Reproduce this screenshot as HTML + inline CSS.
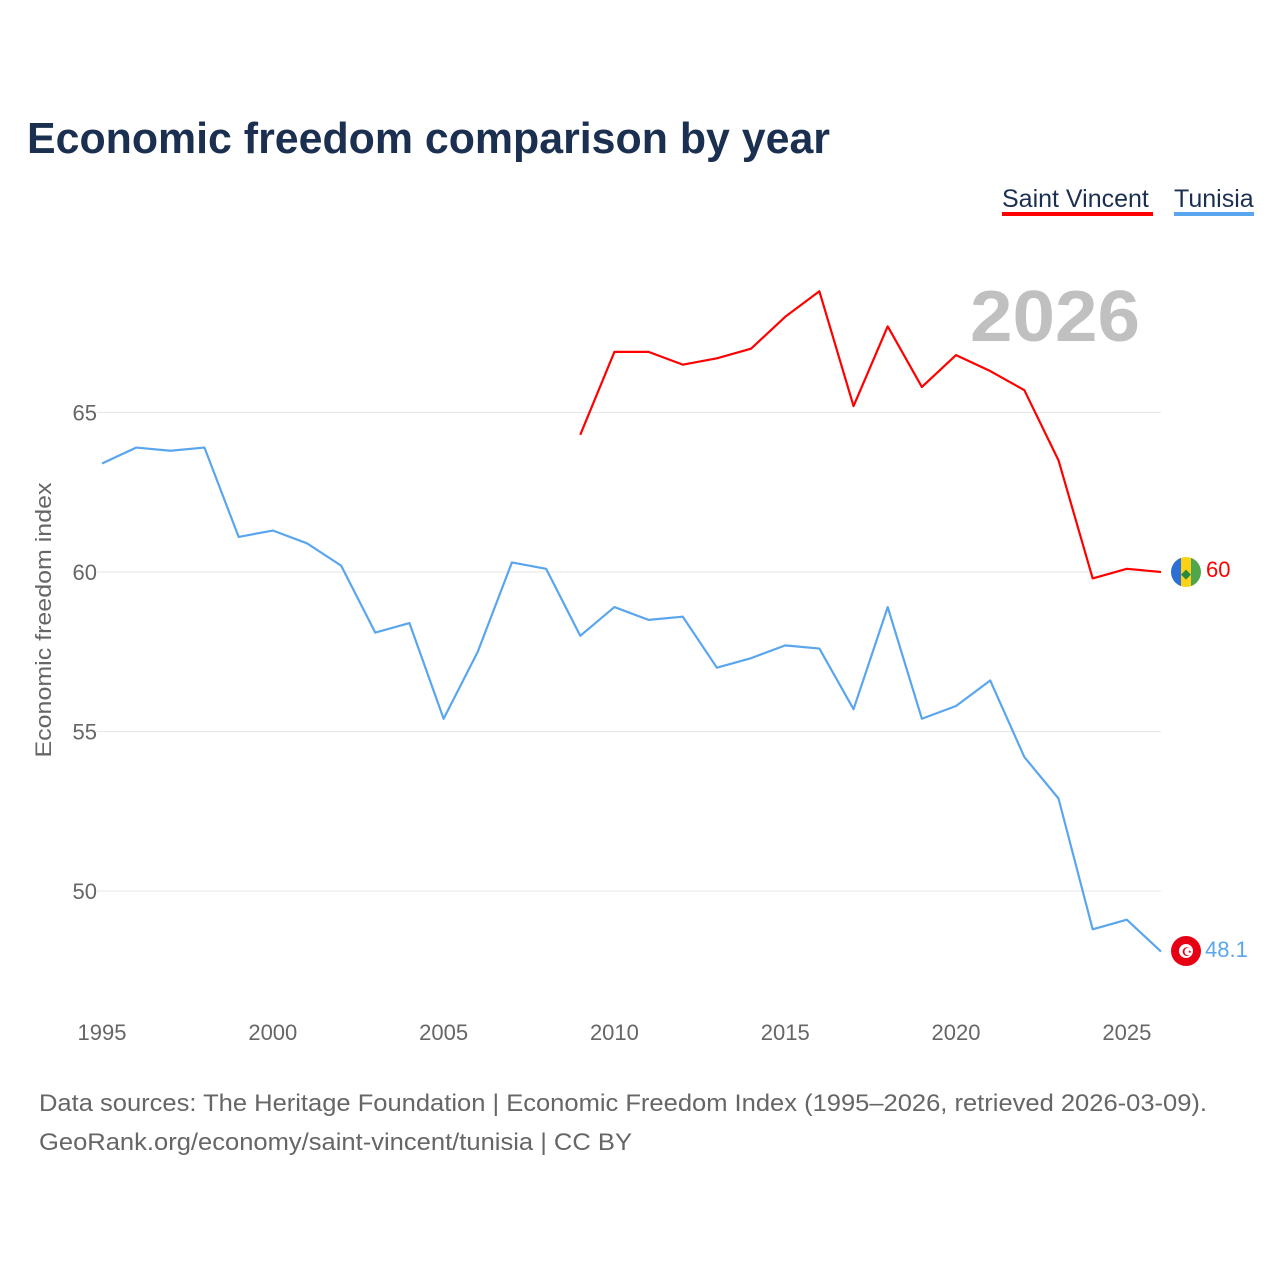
<!DOCTYPE html>
<html><head><meta charset="utf-8"><style>
body{margin:0;background:#fff;font-family:"Liberation Sans",sans-serif}
</style></head><body>
<svg id="chart" width="1280" height="1280" xmlns="http://www.w3.org/2000/svg" font-family="Liberation Sans, sans-serif">
<rect width="1280" height="1280" fill="#fff"/>
<text x="27" y="153" font-size="44" font-weight="bold" fill="#1b3050" textLength="803" lengthAdjust="spacingAndGlyphs">Economic freedom comparison by year</text>
<g><text x="1002" y="207" font-size="25" fill="#1b3050">Saint Vincent</text><rect x="1002" y="212" width="151" height="4" fill="#ff0000"/></g>
<g><text x="1174" y="207" font-size="25" fill="#1b3050">Tunisia</text><rect x="1174" y="212" width="80" height="4" fill="#5aa6ee"/></g>
<text x="970" y="341" font-size="72" font-weight="bold" fill="#c0c0c0" textLength="170" lengthAdjust="spacingAndGlyphs">2026</text>
<text transform="translate(51,620) rotate(-90)" text-anchor="middle" font-size="22" fill="#666" textLength="275" lengthAdjust="spacingAndGlyphs">Economic freedom index</text>
<g id="grid"></g><g id="xt"></g><g id="series"></g>
<g><clipPath id="cv"><circle cx="1186" cy="572" r="15"/></clipPath><g clip-path="url(#cv)"><rect x="1171" y="557" width="10" height="30" fill="#2e6fd6"/><rect x="1181" y="557" width="10" height="30" fill="#fcd116"/><rect x="1191" y="557" width="10" height="30" fill="#4fa64b"/><text x="1186" y="578" font-size="13" text-anchor="middle" fill="#2a8a3a">◆</text></g></g>
<text x="1206" y="577" font-size="22" fill="#ff0000">60</text>
<g><circle cx="1186" cy="951" r="15" fill="#e70013"/><circle cx="1186" cy="951" r="7" fill="#fff"/><text x="1187" y="956" font-size="12" text-anchor="middle" fill="#e70013">☪</text></g>
<text x="1205" y="957" font-size="22" fill="#5aa6ee">48.1</text>
<text x="39" y="1111" font-size="24" fill="#666" textLength="1168" lengthAdjust="spacingAndGlyphs">Data sources: The Heritage Foundation | Economic Freedom Index (1995–2026, retrieved 2026-03-09).</text>
<text x="39" y="1150" font-size="24" fill="#666" textLength="593" lengthAdjust="spacingAndGlyphs">GeoRank.org/economy/saint-vincent/tunisia | CC BY</text>
</svg>
<script>
const years=[];for(let y=1995;y<=2026;y++)years.push(y);
const tunisia=[63.4,63.9,63.8,63.9,61.1,61.3,60.9,60.2,58.1,58.4,55.4,57.5,60.3,60.1,58.0,58.9,58.5,58.6,57.0,57.3,57.7,57.6,55.7,58.9,55.4,55.8,56.6,54.2,52.9,48.8,49.1,48.1];
const svYears=[2009,2010,2011,2012,2013,2014,2015,2016,2017,2018,2019,2020,2021,2022,2023,2024,2025,2026];
const saintVincent=[64.3,66.9,66.9,66.5,66.7,67.0,68.0,68.8,65.2,67.7,65.8,66.8,66.3,65.7,63.5,59.8,60.1,60.0];
const yTicks=[50,55,60,65];
const xTicks=[1995,2000,2005,2010,2015,2020,2025];
const NS="http://www.w3.org/2000/svg";
const X=y=>102+(y-1995)*(1161-102)/31;
const Y=v=>572-(v-60)*31.9;
const grid=document.getElementById('grid'),xt=document.getElementById('xt'),ser=document.getElementById('series');
yTicks.forEach(t=>{
 const l=document.createElementNS(NS,'line');
 
 
 l.setAttribute('x1',97);l.setAttribute('x2',1161);l.setAttribute('y1',Y(t));l.setAttribute('y2',Y(t));l.setAttribute('stroke','#e6e6e6');
 grid.appendChild(l);
 const tx=document.createElementNS(NS,'text');
 
 
 tx.setAttribute('x',97);tx.setAttribute('y',Y(t)+8);tx.setAttribute('text-anchor','end');tx.setAttribute('font-size','22');tx.setAttribute('fill','#666');tx.textContent=t;
 grid.appendChild(tx);
});
xTicks.forEach(t=>{
 const tx=document.createElementNS(NS,'text');
 
 
 tx.setAttribute('x',X(t));tx.setAttribute('y',1040);tx.setAttribute('text-anchor','middle');tx.setAttribute('font-size','22');tx.setAttribute('fill','#666');tx.textContent=t;
 xt.appendChild(tx);
});
function line(xs,vs,color,name){
 const p=document.createElementNS(NS,'polyline');
 
 
 p.setAttribute('points',xs.map((x,i)=>X(x)+','+Y(vs[i])).join(' '));
 p.setAttribute('fill','none');p.setAttribute('stroke',color);p.setAttribute('stroke-width','2.2');p.setAttribute('stroke-linejoin','round');
 ser.appendChild(p);
}
line(years,tunisia,'#5aa6ee','tunisia-line');
line(svYears,saintVincent,'#ff0000','saint-vincent-line');
</script>
</body></html>
